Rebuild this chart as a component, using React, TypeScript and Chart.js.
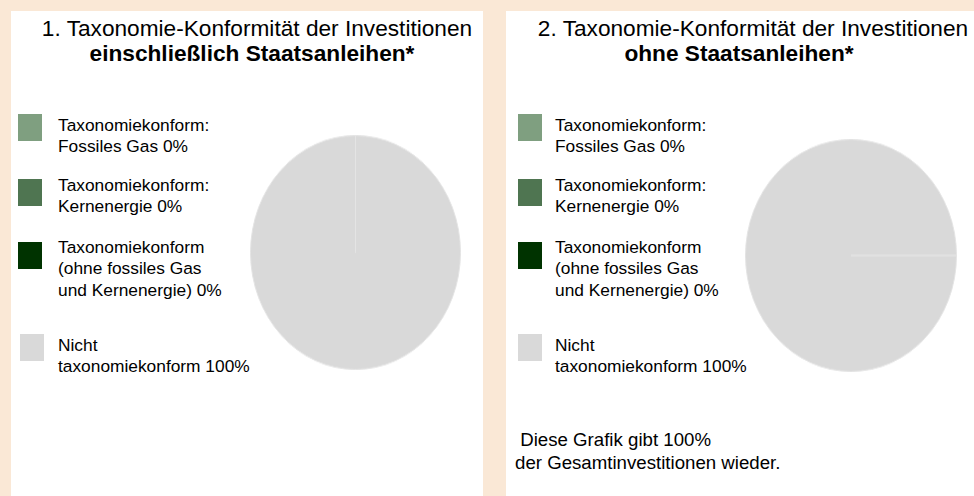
import React, { useEffect, useRef } from "react";
import { Chart, registerables } from "chart.js";

Chart.register(...registerables);

// ---------- data ----------
const categories = [
  "Taxonomiekonform: Fossiles Gas",
  "Taxonomiekonform: Kernenergie",
  "Taxonomiekonform (ohne fossiles Gas und Kernenergie)",
  "Nicht taxonomiekonform",
];
const legendLines = [
  ["Taxonomiekonform:", "Fossiles Gas"],
  ["Taxonomiekonform:", "Kernenergie"],
  ["Taxonomiekonform", "(ohne fossiles Gas", "und Kernenergie)"],
  ["Nicht", "taxonomiekonform"],
];
const valuesInclBonds = [0, 0, 0, 100];
const valuesExclBonds = [0, 0, 0, 100];
const sliceColors = ["#7F9F80", "#4F7551", "#003300", "#D9D9D9"];

const titleLine1 = [
  "1. Taxonomie-Konformität der Investitionen",
  "2. Taxonomie-Konformität der Investitionen",
];
const titleLine2 = ["einschließlich Staatsanleihen*", "ohne Staatsanleihen*"];
const footnote = [" Diese Grafik gibt 100%", "der Gesamtinvestitionen wieder."];

const FONT = '"Liberation Sans", Arial, Helvetica, sans-serif';

function Pie({ values, rotation, style }: { values: number[]; rotation: number; style: React.CSSProperties }) {
  const ref = useRef<HTMLCanvasElement | null>(null);
  useEffect(() => {
    if (!ref.current) return;
    const chart = new Chart(ref.current, {
      type: "pie",
      data: {
        labels: categories,
        datasets: [
          {
            data: values,
            backgroundColor: sliceColors,
            borderColor: "#E4E4E4",
            borderWidth: 1,
          },
        ],
      },
      options: {
        animation: false,
        responsive: true,
        maintainAspectRatio: false,
        rotation,
        layout: { padding: 0 },
        plugins: { legend: { display: false }, tooltip: { enabled: false }, title: { display: false } },
        events: [],
      },
    });
    return () => chart.destroy();
  }, []);
  return (
    <div style={{ position: "absolute", ...style }}>
      <canvas ref={ref} />
    </div>
  );
}

const itemTextTops = [114.75, 174.75, 236.5, 334.75];
const itemBoxTops = [114, 179, 242, 334];

function Legend({ values, boxLeft, textLeft, grayLeft }: { values: number[]; boxLeft: number; textLeft: number; grayLeft: number }) {
  return (
    <>
      {categories.map((c, i) => (
        <React.Fragment key={c}>
          <div
            style={{
              position: "absolute",
              left: i === 3 ? grayLeft : boxLeft,
              top: itemBoxTops[i],
              width: 24,
              height: 27,
              background: sliceColors[i],
            }}
          />
          <div
            style={{
              position: "absolute",
              left: textLeft,
              top: itemTextTops[i],
              fontSize: "17.33px",
              lineHeight: "21.5px",
              whiteSpace: "nowrap",
              color: "#000",
            }}
          >
            {legendLines[i].map((l, j) => (
              <div key={j}>{j === legendLines[i].length - 1 ? `${l} ${values[i]}%` : l}</div>
            ))}
          </div>
        </React.Fragment>
      ))}
    </>
  );
}

function TitleLine({ text, cx, top, bold }: { text: string; cx: number; top: number; bold?: boolean }) {
  return (
    <div
      style={{
        position: "absolute",
        left: cx - 300,
        width: 600,
        top,
        textAlign: "center",
        fontSize: "22.67px",
        lineHeight: "25px",
        fontWeight: bold ? "bold" : "normal",
        whiteSpace: "nowrap",
        color: "#000",
      }}
    >
      {text}
    </div>
  );
}

export default function App() {
  return (
    <div
      style={{
        position: "fixed",
        left: 0,
        top: 0,
        width: 974,
        height: 496,
        background: "#FAE8D6",
        overflow: "hidden",
        fontFamily: FONT,
      }}
    >
      <div style={{ position: "absolute", left: 11, top: 11, width: 472, height: 485, background: "#fff" }} />
      <div style={{ position: "absolute", left: 506, top: 11, width: 468, height: 485, background: "#fff" }} />

      <TitleLine text={titleLine1[0]} cx={257} top={16} />
      <TitleLine text={titleLine2[0]} cx={252} top={41} bold />
      <TitleLine text={titleLine1[1]} cx={753} top={16} />
      <TitleLine text={titleLine2[1]} cx={739} top={41} bold />

      <Legend values={valuesInclBonds} boxLeft={18} textLeft={58} grayLeft={20} />
      <Legend values={valuesExclBonds} boxLeft={518} textLeft={555} grayLeft={518} />

      <div
        style={{
          position: "absolute",
          left: 250,
          top: 135,
          width: 211,
          height: 211,
          transform: `scaleY(${235 / 211})`,
          transformOrigin: "top left",
        }}
      >
        <Pie values={valuesInclBonds} rotation={0} style={{ left: 0, top: 0, width: 211, height: 211 }} />
      </div>
      <div
        style={{
          position: "absolute",
          left: 745,
          top: 139,
          width: 212,
          height: 212,
          transform: `scaleY(${233 / 212})`,
          transformOrigin: "top left",
        }}
      >
        <Pie values={valuesExclBonds} rotation={90} style={{ left: 0, top: 0, width: 212, height: 212 }} />
      </div>

      <div
        style={{
          position: "absolute",
          left: 515,
          top: 428,
          fontSize: "18.67px",
          lineHeight: "23px",
          whiteSpace: "pre",
          color: "#000",
        }}
      >
        {footnote.map((l, i) => (
          <div key={i}>{l}</div>
        ))}
      </div>
    </div>
  );
}
